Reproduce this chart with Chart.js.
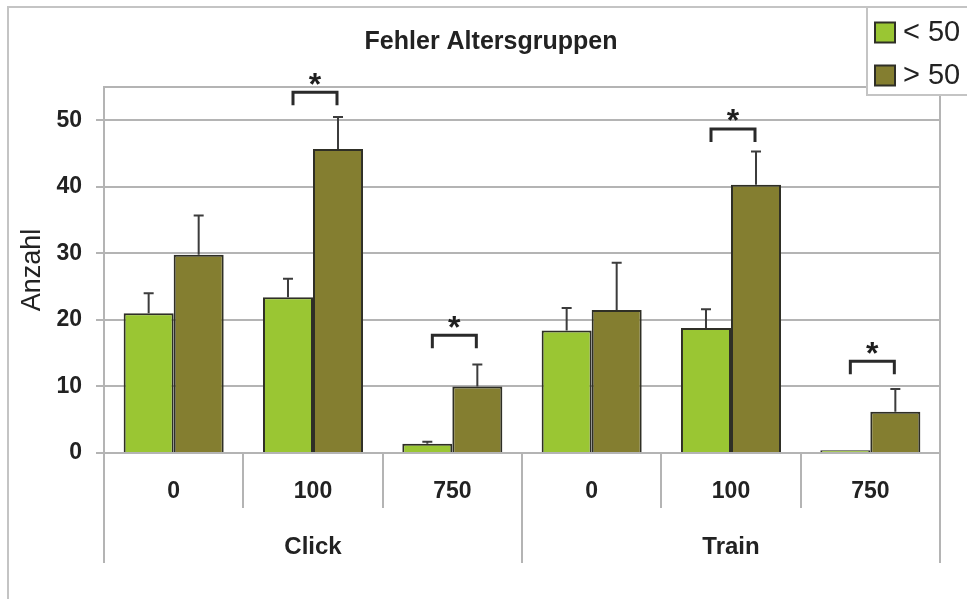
<!DOCTYPE html>
<html>
<head>
<meta charset="utf-8">
<script src="https://cdn.jsdelivr.net/npm/chart.js@4/dist/chart.umd.min.js"></script>
<style>
  html, body { margin: 0; padding: 0; background: #ffffff; }
  canvas { display: block; }
</style>
</head>
<body>
<canvas id="chart" width="967" height="599"></canvas>
<script>
// Error counts by age group, per condition (Click / Train, delay 0 / 100 / 750)
const conditions = ['0', '100', '750', '0', '100', '750'];
const groups = ['Click', 'Train'];
const seriesNames = ['< 50', '> 50'];
const under50 = [21.0, 23.4, 1.4, 18.4, 18.8, 0.4];
const over50 = [29.8, 45.7, 10.0, 21.5, 40.3, 6.2];
const under50Err = [3.0, 2.8, 0.3, 3.4, 2.8, 0];
const over50Err = [5.9, 4.8, 3.3, 7.1, 5.0, 3.4];
// height of the significance bracket per condition (null = no bracket)
const sigLevel = [null, 54.2, 17.7, null, 48.7, 13.8];
const yTicks = [0, 10, 20, 30, 40, 50];
const titleText = 'Fehler Altersgruppen';
const yTitle = 'Anzahl';

const FONT = '"Liberation Sans", Arial, Helvetica, sans-serif';
const TEXT = '#222222';
const GRID = '#b4b4b4';
const INK = '#2f2f26';
const GREEN = '#9ac633';
const OLIVE = '#847e30';

Chart.defaults.font.family = FONT;
Chart.defaults.color = TEXT;

const decorations = {
  id: 'decorations',
  beforeDraw(chart) {
    const ctx = chart.ctx;
    ctx.save();
    ctx.fillStyle = '#ffffff';
    ctx.fillRect(0, 0, chart.width, chart.height);
    // outer frame
    ctx.strokeStyle = '#c4c4c4';
    ctx.lineWidth = 2;
    ctx.beginPath();
    ctx.moveTo(8, chart.height + 2);
    ctx.lineTo(8, 7);
    ctx.lineTo(chart.width + 2, 7);
    ctx.stroke();
    ctx.restore();
  },
  beforeDatasetsDraw(chart) {
    const {ctx, chartArea: a} = chart;
    ctx.save();
    ctx.strokeStyle = GRID;
    ctx.lineWidth = 2;
    ctx.beginPath();
    ctx.moveTo(a.left, a.top);
    ctx.lineTo(a.right, a.top);
    ctx.lineTo(a.right, a.bottom);
    ctx.stroke();
    ctx.restore();
  },
  afterDatasetsDraw(chart) {
    const ctx = chart.ctx;
    const y = chart.scales.y;
    const x = chart.scales.x;
    const errs = [under50Err, over50Err];
    ctx.save();
    // upward error bars
    ctx.strokeStyle = '#3c3c3c';
    ctx.lineWidth = 2;
    chart.data.datasets.forEach((ds, i) => {
      const meta = chart.getDatasetMeta(i);
      meta.data.forEach((bar, j) => {
        const e = errs[i][j];
        if (!e) return;
        const top = y.getPixelForValue(ds.data[j] + e);
        ctx.beginPath();
        ctx.moveTo(bar.x, bar.y);
        ctx.lineTo(bar.x, top);
        ctx.moveTo(bar.x - 5, top);
        ctx.lineTo(bar.x + 5, top);
        ctx.stroke();
      });
    });
    // significance brackets with stars
    ctx.strokeStyle = '#2a2a2a';
    ctx.lineWidth = 3;
    ctx.fillStyle = '#1e1e1e';
    ctx.font = 'bold 32px ' + FONT;
    ctx.textAlign = 'center';
    ctx.textBaseline = 'alphabetic';
    const m = ctx.measureText('*');
    const asc = m.actualBoundingBoxAscent, desc = m.actualBoundingBoxDescent;
    sigLevel.forEach((lvl, j) => {
      if (lvl == null) return;
      const cx = x.getPixelForValue(j) + 2;
      const top = y.getPixelForValue(lvl);
      ctx.beginPath();
      ctx.moveTo(cx - 22, top + 13);
      ctx.lineTo(cx - 22, top);
      ctx.lineTo(cx + 22, top);
      ctx.lineTo(cx + 22, top + 13);
      ctx.stroke();
      const sy = top - 13.5;
      ctx.fillText('*', cx, sy + (asc - desc) / 2);
    });
    ctx.restore();
  },
  afterDraw(chart) {
    const ctx = chart.ctx;
    ctx.save();
    // title
    ctx.fillStyle = TEXT;
    ctx.font = 'bold 25px ' + FONT;
    ctx.textAlign = 'center';
    ctx.textBaseline = 'middle';
    ctx.fillText(titleText, 491, 42);
    // legend box
    ctx.fillStyle = '#ffffff';
    ctx.fillRect(867, 7, 110, 88);
    ctx.strokeStyle = '#c4c4c4';
    ctx.lineWidth = 2;
    ctx.strokeRect(867, 7, 110, 88);
    ctx.font = '29px ' + FONT;
    ctx.textAlign = 'left';
    chart.data.datasets.forEach((ds, i) => {
      const cy = 32.5 + i * 43;
      ctx.fillStyle = ds.backgroundColor;
      ctx.fillRect(875, cy - 10, 20, 20);
      ctx.strokeStyle = INK;
      ctx.lineWidth = 2;
      ctx.strokeRect(875, cy - 10, 20, 20);
      ctx.fillStyle = TEXT;
      ctx.fillText(ds.label, 903, cy);
    });
    ctx.restore();
  }
};

new Chart(document.getElementById('chart'), {
  type: 'bar',
  data: {
    labels: conditions,
    datasets: [
      { label: seriesNames[0], data: under50, backgroundColor: GREEN, borderColor: INK, borderWidth: 2 },
      { label: seriesNames[1], data: over50, backgroundColor: OLIVE, borderColor: INK, borderWidth: 2 }
    ]
  },
  options: {
    responsive: false,
    animation: false,
    events: [],
    layout: { padding: { left: 0, top: 87, right: 27, bottom: 0 } },
    datasets: { bar: { categoryPercentage: 0.718, barPercentage: 1.0 } },
    plugins: { legend: { display: false }, title: { display: false }, tooltip: { enabled: false } },
    scales: {
      x: {
        type: 'category',
        position: 'bottom',
        weight: 0,
        offset: true,
        grid: { offset: true, drawOnChartArea: false, tickLength: 55, color: GRID, lineWidth: 2 },
        border: { display: true, color: GRID, width: 2 },
        ticks: { padding: -30, maxRotation: 0, autoSkip: false, font: { size: 23, weight: 'bold' }, color: TEXT },
        afterFit(scale) { scale.height = 55; }
      },
      x2: {
        type: 'category',
        position: 'bottom',
        weight: 1,
        labels: groups,
        offset: true,
        grid: { offset: true, drawOnChartArea: false, tickLength: 55, color: GRID, lineWidth: 2 },
        border: { display: false },
        ticks: { padding: -30, maxRotation: 0, autoSkip: false, font: { size: 24, weight: 'bold' }, color: TEXT },
        afterFit(scale) { scale.height = 91; }
      },
      y: {
        min: 0,
        max: 55,
        grid: { color: GRID, lineWidth: 2, tickLength: 8 },
        border: { display: true, color: GRID, width: 2 },
        ticks: { padding: 14, font: { size: 23, weight: 'bold' }, color: TEXT },
        afterBuildTicks(scale) { scale.ticks = yTicks.map(v => ({ value: v })); },
        title: { display: true, text: yTitle, font: { size: 27, weight: 'normal' }, color: TEXT, padding: { top: 16, bottom: 0 } },
        afterFit(scale) { scale.width = 104; }
      }
    }
  },
  plugins: [decorations]
});
</script>
</body>
</html>
